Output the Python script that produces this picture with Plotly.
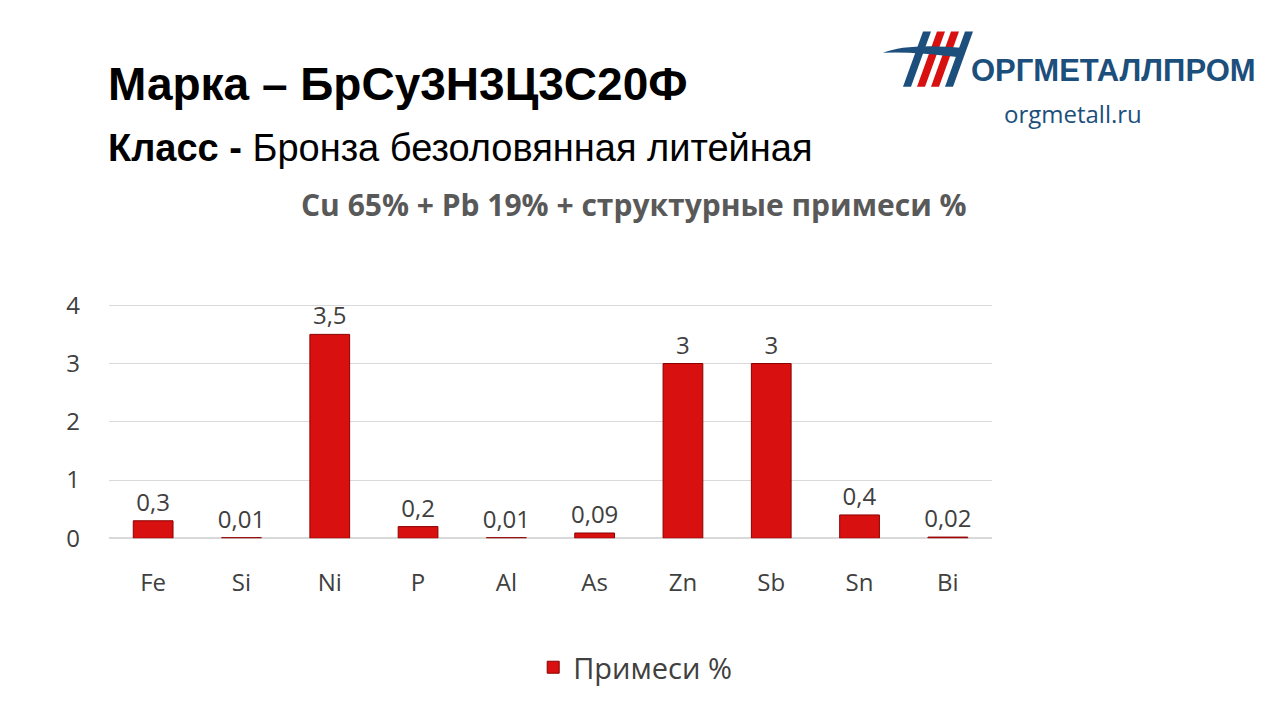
import plotly.graph_objects as go

elements = ["Fe", "Si", "Ni", "P", "Al", "As", "Zn", "Sb", "Sn", "Bi"]
values = [0.3, 0.01, 3.5, 0.2, 0.01, 0.09, 3, 3, 0.4, 0.02]
labels = ["0,3", "0,01", "3,5", "0,2", "0,01", "0,09", "3", "3", "0,4", "0,02"]
y_ticks = [0, 1, 2, 3, 4]

W, H = 1280, 720
font = "Open Sans"

fig = go.Figure()
fig.add_trace(go.Bar(
    x=elements, y=values, text=labels, textposition="outside",
    textfont=dict(size=24, color="#404040", family=font), constraintext="none",
    marker=dict(color="#d81010", line=dict(color="#8b0000", width=1)),
    width=0.45, name="Примеси %", cliponaxis=False,
))

fig.update_layout(
    width=W, height=H, plot_bgcolor="white", paper_bgcolor="white",
    margin=dict(l=0, r=0, t=0, b=0), showlegend=True,
    uniformtext=dict(minsize=24, mode="show"),
    legend=dict(orientation="h", x=0.49, y=1 - 673 / H, xanchor="center", yanchor="middle",
                font=dict(size=29, color="#404040", family=font)),
    xaxis=dict(domain=[101 / W, 984 / W], tickfont=dict(size=24, color="#404040", family=font),
               showline=False, ticks="", ticklabelstandoff=28),
    yaxis=dict(domain=[1 - 540 / H, 1 - 288 / H], range=[0, 4.2], tickvals=y_ticks,
               tickfont=dict(size=24, color="#404040", family=font),
               gridcolor="#d9d9d9", zeroline=True, zerolinecolor="#d9d9d9", ticklen=0,
               ticklabelstandoff=28),
    font=dict(family=font),
)

def note(text, x, y, size, color="black", bold=False, anchor="left", fam=font):
    if bold:
        text = "<b>" + text + "</b>"
    fig.add_annotation(text=text, x=x / W, y=1 - y / H, xref="paper", yref="paper",
                       showarrow=False, xanchor=anchor, yanchor="middle",
                       font=dict(size=size, color=color, family=fam))

note("Марка – БрСу3Н3Ц3С20Ф", 98, 72, 46, bold=True, fam="Liberation Sans")
note("<b>Класс -</b> Бронза безоловянная литейная", 98, 138, 38, fam="Liberation Sans")
note("Cu 65% + Pb 19% + структурные примеси %", 626, 196, 30, color="#595959", bold=True, anchor="center")
note("ОРГМЕТАЛЛПРОМ", 1105, 58, 31, color="#1c4f7c", bold=True, anchor="center", fam="Liberation Sans")
note("orgmetall.ru", 1065, 102, 24, color="#1c4f7c", anchor="center")

# logo stripes
for i, c in enumerate(["#1c4f7c", "#d81010", "#d81010", "#1c4f7c"]):
    x0 = 895 + i * 14
    fig.add_shape(type="path", xref="paper", yref="paper",
                  path=f"M {x0/W},{1-75/H} L {(x0+8)/W},{1-75/H} L {(x0+28)/W},{1-18/H} L {(x0+20)/W},{1-18/H} Z",
                  fillcolor=c, line_width=0)
fig.add_shape(type="path", xref="paper", yref="paper",
              path=f"M {875/W},{1-40/H} Q {900/W},{1-30/H} {955/W},{1-35/H} L {955/W},{1-45/H} Q {900/W},{1-38/H} {875/W},{1-40/H} Z",
              fillcolor="#1c4f7c", line_width=0)

fig.write_html("out.html")
